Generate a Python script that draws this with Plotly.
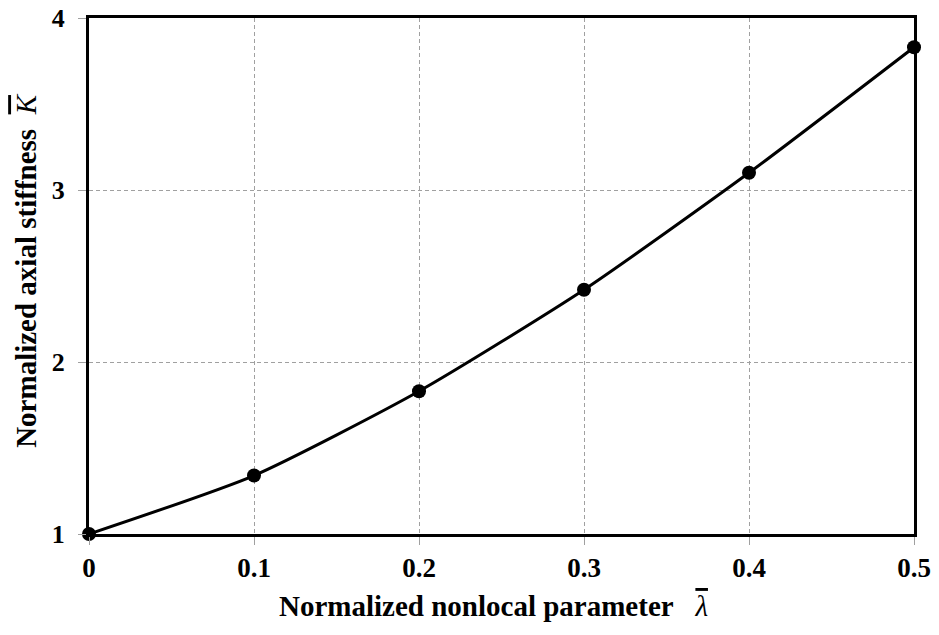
import plotly.graph_objects as go

x_vals = [0, 0.1, 0.2, 0.3, 0.4, 0.5]
k_vals = [1.0, 1.34, 1.83, 2.42, 3.10, 3.83]
x_ticks = [0, 0.1, 0.2, 0.3, 0.4, 0.5]
x_tick_text = ["0", "0.1", "0.2", "0.3", "0.4", "0.5"]
y_ticks = [1, 2, 3, 4]
y_tick_text = ["1", "2", "3", "4"]

FONT = "Liberation Serif"
OV = "text-decoration:overline"

fig = go.Figure()
fig.add_trace(go.Scatter(
    x=x_vals, y=k_vals, mode="lines+markers",
    line=dict(color="black", width=3, shape="spline", smoothing=0.6),
    marker=dict(color="black", size=14),
    cliponaxis=False, showlegend=False,
))

fig.update_layout(
    width=939, height=635,
    margin=dict(l=89, r=25, t=18, b=101),
    paper_bgcolor="white", plot_bgcolor="white",
    font=dict(family=FONT, color="black"),
    annotations=[
        dict(text="<b>Normalized nonlocal parameter</b>   <i><span style='%s'>λ</span></i>" % OV,
             xref="paper", yref="paper", x=0.49, y=0, yshift=-72, yanchor="middle",
             showarrow=False, font=dict(family=FONT, size=29, color="black")),
        dict(text="<b>Normalized axial stiffness</b>  <i><span style='%s'>K</span></i>" % OV,
             xref="paper", yref="paper", x=0, xshift=-63, y=0.51, xanchor="center", yanchor="middle",
             textangle=-90, showarrow=False, font=dict(family=FONT, size=29, color="black")),
    ],
)
fig.update_xaxes(
    range=[0, 0.5], tickvals=x_ticks, ticktext=x_tick_text,
    showgrid=True, gridcolor="#a0a0a0", griddash="4px,3px", gridwidth=1,
    ticks="outside", ticklen=8, tickcolor="#a0a0a0", automargin=False,
    tickfont=dict(family=FONT, size=27, color="black", weight="bold"),
    showline=True, linecolor="black", linewidth=3, mirror=True,
    zeroline=False,
)
fig.update_yaxes(
    range=[1, 4], tickvals=y_ticks, ticktext=y_tick_text,
    showgrid=True, gridcolor="#a0a0a0", griddash="4px,3px", gridwidth=1,
    ticks="outside", ticklen=8, tickcolor="#a0a0a0", automargin=False,
    tickfont=dict(family=FONT, size=26, color="black", weight="bold"),
    ticklabelstandoff=8,
    showline=True, linecolor="black", linewidth=3, mirror=True,
    zeroline=False,
)

fig.write_html("out.html", config={"displayModeBar": False},
               post_script="document.body.style.margin='0';document.body.style.overflow='hidden';")
